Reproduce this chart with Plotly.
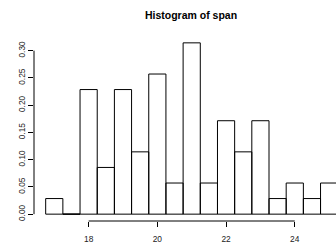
import plotly.graph_objects as go

# Data (density scale)
bin_left = [16.75, 17.25, 17.75, 18.25, 18.75, 19.25, 19.75, 20.25, 20.75,
            21.25, 21.75, 22.25, 22.75, 23.25, 23.75, 24.25, 24.75]
bin_width = 0.5
density = [0.0286, 0.0, 0.2286, 0.0857, 0.2286, 0.1143, 0.2571, 0.0571, 0.3143,
           0.0571, 0.1714, 0.1143, 0.1714, 0.0286, 0.0571, 0.0286, 0.0571]
x_ticks = [18, 20, 22, 24]
y_ticks = [0.00, 0.05, 0.10, 0.15, 0.20, 0.25, 0.30]
y_tick_labels = ["0.00", "0.05", "0.10", "0.15", "0.20", "0.25", "0.30"]
title = "Histogram of span"

centers = [b + bin_width / 2 for b in bin_left]

FONT = "Liberation Sans, Arial, Helvetica, sans-serif"

fig = go.Figure()
fig.add_trace(go.Bar(
    x=centers, y=density, width=bin_width,
    marker=dict(color="rgba(255,255,255,0)", line=dict(color="black", width=1)),
    hoverinfo="skip", showlegend=False,
))

# empty bins are still drawn by R as a flat line on the baseline
zx, zy = [], []
for b, d in zip(bin_left, density):
    if d == 0:
        zx += [b, b + bin_width, None]
        zy += [0, 0, None]
if zx:
    fig.add_trace(go.Scatter(x=zx, y=zy, mode="lines",
                             line=dict(color="black", width=1),
                             hoverinfo="skip", showlegend=False))

lo = bin_left[0]
hi = bin_left[-1] + bin_width
ext = 0.04 * (hi - lo)
ymax = max(density)

fig.update_layout(
    width=336, height=246,
    margin=dict(l=34, r=0, t=36, b=25, pad=0),
    paper_bgcolor="white", plot_bgcolor="white",
    bargap=0,
    title=dict(text=title, x=191 / 336, xref="container", xanchor="center",
               y=1 - 15 / 246, yref="container", yanchor="middle",
               font=dict(family=FONT, size=10.5, color="black", weight="bold")),
    font=dict(family=FONT, size=8.4, color="#222"),
    xaxis=dict(range=[lo - ext, 25.2], tickvals=x_ticks,
               ticks="outside", ticklen=5, tickwidth=1, tickcolor="black",
               showline=False, showgrid=False, zeroline=False,
               ticklabelstandoff=5),
    yaxis=dict(range=[-0.04 * ymax, ymax * 1.04], tickvals=y_ticks,
               ticktext=y_tick_labels, tickangle=-90,
               ticks="outside", ticklen=5, tickwidth=1, tickcolor="black",
               showline=False, showgrid=False, zeroline=False),
    shapes=[
        dict(type="line", xref="x", yref="paper", x0=min(x_ticks), x1=max(x_ticks),
             y0=0, y1=0, line=dict(color="black", width=1)),
        dict(type="line", xref="paper", yref="y", x0=0, x1=0,
             y0=min(y_ticks), y1=max(y_ticks), line=dict(color="black", width=1)),
    ],
)

fig.write_html("out.html",
               config={"displayModeBar": False, "staticPlot": True},
               post_script="document.body.style.margin='0';document.body.style.overflow='hidden';")
